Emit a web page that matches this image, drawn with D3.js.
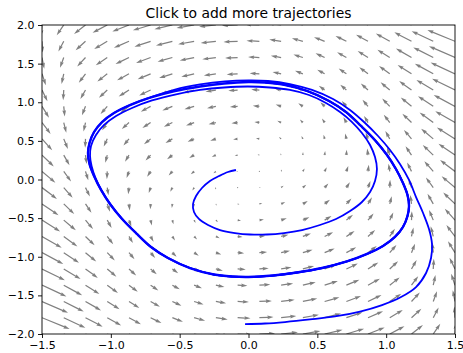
<!DOCTYPE html>
<html><head><meta charset="utf-8">
<script src="https://cdn.jsdelivr.net/npm/d3@7"></script>
<style>body{margin:0;background:#fff} svg{display:block}</style>
</head><body>
<svg id="c" width="463" height="353"></svg>
<script>
// ---------- data ----------
const title = "Click to add more trajectories";
const xTicks = [-1.5, -1.0, -0.5, 0.0, 0.5, 1.0, 1.5];
const yTicks = [-2.0, -1.5, -1.0, -0.5, 0.0, 0.5, 1.0, 1.5, 2.0];

// quiver grid (tail positions)
const gridX = [-1.5,-1.342,-1.184,-1.026,-0.868,-0.711,-0.553,-0.395,-0.237,-0.079,0.079,0.237,0.395,0.553,0.711,0.868,1.026,1.184,1.342,1.5];
const gridY = [-2,-1.789,-1.579,-1.368,-1.158,-0.947,-0.737,-0.526,-0.316,-0.105,0.105,0.316,0.526,0.737,0.947,1.158,1.368,1.579,1.789,2];
// horizontal component per row (row 0 = bottom), per column
const uRows = [
 [3.88,3.08,2.48,2.06,1.79,1.65,1.62,1.67,1.78,1.92,2.08,2.22,2.33,2.38,2.35,2.21,1.95,1.52,0.93,0.13],
 [3.66,2.86,2.27,1.84,1.58,1.44,1.41,1.46,1.57,1.71,1.87,2.01,2.12,2.17,2.14,2.00,1.73,1.31,0.71,-0.09],
 [3.45,2.65,2.06,1.63,1.37,1.23,1.20,1.25,1.36,1.50,1.66,1.80,1.91,1.96,1.93,1.79,1.52,1.10,0.50,-0.30],
 [3.24,2.44,1.84,1.42,1.16,1.02,0.98,1.04,1.14,1.29,1.45,1.59,1.70,1.75,1.72,1.58,1.31,0.89,0.29,-0.51],
 [3.03,2.23,1.63,1.21,0.95,0.81,0.77,0.83,0.93,1.08,1.24,1.38,1.49,1.54,1.51,1.37,1.10,0.68,0.08,-0.72],
 [2.82,2.02,1.42,1.00,0.73,0.60,0.56,0.61,0.72,0.87,1.03,1.17,1.28,1.33,1.30,1.16,0.89,0.47,-0.13,-0.93],
 [2.61,1.81,1.21,0.79,0.52,0.39,0.35,0.40,0.51,0.66,0.82,0.96,1.07,1.12,1.09,0.95,0.68,0.26,-0.34,-1.14],
 [2.40,1.60,1.00,0.58,0.31,0.17,0.14,0.19,0.30,0.45,0.60,0.75,0.86,0.91,0.88,0.74,0.47,0.05,-0.55,-1.35],
 [2.19,1.39,0.79,0.37,0.10,-0.04,-0.07,-0.02,0.09,0.24,0.39,0.54,0.65,0.70,0.67,0.53,0.26,-0.16,-0.76,-1.56],
 [1.98,1.18,0.58,0.16,-0.11,-0.25,-0.28,-0.23,-0.12,0.03,0.18,0.33,0.44,0.49,0.46,0.32,0.05,-0.37,-0.97,-1.77],
 [1.77,0.97,0.37,-0.05,-0.32,-0.46,-0.49,-0.44,-0.33,-0.18,-0.03,0.12,0.23,0.28,0.25,0.11,-0.16,-0.58,-1.18,-1.98],
 [1.56,0.76,0.16,-0.26,-0.53,-0.67,-0.70,-0.65,-0.54,-0.39,-0.24,-0.09,0.02,0.07,0.04,-0.10,-0.37,-0.79,-1.39,-2.19],
 [1.35,0.55,-0.05,-0.47,-0.74,-0.88,-0.91,-0.86,-0.75,-0.60,-0.45,-0.30,-0.19,-0.14,-0.17,-0.31,-0.58,-1.00,-1.60,-2.40],
 [1.14,0.34,-0.26,-0.68,-0.95,-1.09,-1.12,-1.07,-0.96,-0.82,-0.66,-0.51,-0.40,-0.35,-0.39,-0.52,-0.79,-1.21,-1.81,-2.61],
 [0.93,0.13,-0.47,-0.89,-1.16,-1.30,-1.33,-1.28,-1.17,-1.03,-0.87,-0.72,-0.61,-0.56,-0.60,-0.73,-1.00,-1.42,-2.02,-2.82],
 [0.72,-0.08,-0.68,-1.10,-1.37,-1.51,-1.54,-1.49,-1.38,-1.24,-1.08,-0.93,-0.83,-0.77,-0.81,-0.95,-1.21,-1.63,-2.23,-3.03],
 [0.51,-0.29,-0.89,-1.31,-1.58,-1.72,-1.75,-1.70,-1.59,-1.45,-1.29,-1.14,-1.04,-0.98,-1.02,-1.16,-1.42,-1.84,-2.44,-3.24],
 [0.30,-0.50,-1.10,-1.52,-1.79,-1.93,-1.96,-1.91,-1.80,-1.66,-1.50,-1.36,-1.25,-1.20,-1.23,-1.37,-1.63,-2.06,-2.65,-3.45],
 [0.09,-0.71,-1.31,-1.73,-2.00,-2.14,-2.17,-2.12,-2.01,-1.87,-1.71,-1.57,-1.46,-1.41,-1.44,-1.58,-1.84,-2.27,-2.86,-3.66],
 [-0.13,-0.93,-1.52,-1.95,-2.21,-2.35,-2.38,-2.33,-2.22,-2.08,-1.92,-1.78,-1.67,-1.62,-1.65,-1.79,-2.06,-2.48,-3.08,-3.88]
];
// vertical component per column (same for every row)
const vCols = [-1.5,-1.342,-1.184,-1.026,-0.868,-0.711,-0.553,-0.395,-0.237,-0.079,0.079,0.237,0.395,0.553,0.711,0.868,1.026,1.184,1.342,1.5];

// closed orbit the trajectories settle on (counter-clockwise from top)
const limitCycle = [[0,1.262],[-0.178,1.243],[-0.352,1.204],[-0.534,1.146],[-0.715,1.061],[-0.861,0.964],[-0.977,0.861],[-1.064,0.744],[-1.122,0.615],[-1.155,0.472],[-1.166,0.343],[-1.155,0.201],[-1.122,0.045],[-1.071,-0.136],[-1.006,-0.317],[-0.918,-0.511],[-0.817,-0.693],[-0.708,-0.874],[-0.585,-1.016],[-0.425,-1.146],[-0.251,-1.230],[-0.120,-1.256],[0,-1.262],[0.178,-1.243],[0.352,-1.204],[0.534,-1.146],[0.715,-1.061],[0.861,-0.964],[0.977,-0.861],[1.064,-0.744],[1.122,-0.615],[1.155,-0.472],[1.166,-0.343],[1.155,-0.201],[1.122,-0.045],[1.071,0.136],[1.006,0.317],[0.918,0.511],[0.817,0.693],[0.708,0.874],[0.585,1.016],[0.425,1.146],[0.251,1.230],[0.120,1.256]];

// trajectory started near the origin (spirals outward)
const trajAStart = [[-0.091,0.123],[-0.149,0.097],[-0.214,0.045],[-0.280,-0.019],[-0.338,-0.110],[-0.381,-0.214],[-0.403,-0.317],[-0.396,-0.421],[-0.360,-0.511],[-0.294,-0.589],[-0.207,-0.654],[-0.098,-0.693],[0.011,-0.712],[0.134,-0.712],[0.258,-0.693],[0.389,-0.654],[0.519,-0.589],[0.636,-0.511],[0.738,-0.408],[0.824,-0.291],[0.883,-0.162],[0.919,-0.019],[0.933,0.136],[0.919,0.291],[0.883,0.447],[0.824,0.602],[0.752,0.744],[0.665,0.874],[0.563,0.991],[0.439,1.094],[0.301,1.159],[0.156,1.191],[-0.004,1.204],[-0.178,1.191],[-0.352,1.159],[-0.534,1.100],[-0.701,1.023],[-0.846,0.926],[-0.962,0.822],[-1.049,0.706],[-1.108,0.576],[-1.144,0.434],[-1.151,0.304],[-1.140,0.175],[-1.111,0.019],[-1.064,-0.149],[-0.999,-0.330]];

// trajectory started near the bottom (spirals inward)
const trajBStart = [[-0.025,-1.871],[0.120,-1.864],[0.265,-1.845],[0.447,-1.812],[0.628,-1.773],[0.810,-1.709],[0.970,-1.625],[1.108,-1.521],[1.217,-1.392],[1.290,-1.210],[1.326,-1.016],[1.333,-0.835],[1.311,-0.641],[1.268,-0.434],[1.217,-0.227],[1.166,-0.006],[1.100,0.201],[1.028,0.382],[0.941,0.563],[0.839,0.744],[0.737,0.900],[0.614,1.042],[0.461,1.159],[0.301,1.236],[0.142,1.275],[0,1.282],[-0.171,1.269],[-0.352,1.230],[-0.534,1.165]];

// ---------- layout ----------
const W = 463, H = 353;
const L = 42, R = 455, T = 25, B = 334;
const svg = d3.select("#c");
const xs = d3.scaleLinear().domain([-1.5, 1.5]).range([L, R]);
const ys = d3.scaleLinear().domain([-2, 2]).range([B, T]);
const FONT = "DejaVu Sans, sans-serif";

svg.append("defs").append("clipPath").attr("id", "clip")
  .append("rect").attr("x", L).attr("y", T).attr("width", R - L).attr("height", B - T);

// ---------- quiver (matplotlib-like arrows) ----------
const field = [];
gridY.forEach((gy, i) => gridX.forEach((gx, j) => field.push({x: gx, y: gy, u: uRows[i][j], v: vCols[j]})));
const mags = field.map(d => Math.hypot(d.u, d.v));
const amean = d3.mean(mags);
const shaftW = 0.003 * (R - L);             // shaft width in px
function arrowShape(len) {                   // len in shaft widths
  if (len < 1) {
    const p = []; for (let k = 0; k < 7; k++) { const th = k * Math.PI / 3; p.push([Math.cos(th) * 0.5, Math.sin(th) * 0.5]); }
    return p;
  }
  let X, Y = [0.5, 0.5, 1.5, 0, -1.5, -0.5, -0.5, 0.5];
  if (len < 5) { const s = len / 5; X = [0, 0.5, 0, 5, 0, 0.5, 0, 0].map(d => d * s); Y = Y.map(d => d * s); }
  else X = [0, len - 4.5, len - 5, len, len - 5, len - 4.5, 0, 0];
  return X.map((x, k) => [x, Y[k]]);
}
const gQ = svg.append("g").attr("clip-path", "url(#clip)");
gQ.selectAll("path").data(field).join("path")
  .attr("d", d => {
    const m = Math.hypot(d.u, d.v);
    const len = m / (0.108 * amean);
    const a = Math.atan2(-d.v, d.u);
    const c = Math.cos(a), s = Math.sin(a);
    const x0 = xs(d.x), y0 = ys(d.y);
    const pts = arrowShape(len).map(([px, py]) => [x0 + shaftW * (px * c - py * s), y0 + shaftW * (px * s + py * c)]);
    return "M" + pts.map(p => p[0].toFixed(2) + "," + p[1].toFixed(2)).join("L") + "Z";
  })
  .attr("fill", "#808080").attr("stroke", "none");

// ---------- trajectories ----------
const line = d3.line().x(d => xs(d[0])).y(d => ys(d[1])).curve(d3.curveCatmullRom.alpha(0.5));
const lineClosed = d3.line().x(d => xs(d[0])).y(d => ys(d[1])).curve(d3.curveCatmullRomClosed.alpha(0.5));
const gL = svg.append("g").attr("clip-path", "url(#clip)").attr("fill", "none").attr("stroke", "#0000ff").attr("stroke-width", 1.8).attr("stroke-linejoin", "round");
gL.append("path").attr("d", lineClosed(limitCycle)).attr("stroke-width", 2.4);
gL.append("path").attr("d", line(trajAStart.concat(limitCycle.slice(15))));
gL.append("path").attr("d", line(trajBStart.concat(limitCycle.slice(4))));

// ---------- axes ----------
const fmt = d => d3.format(".1f")(d).replace("-", "\u2212");
const gx = svg.append("g").attr("transform", `translate(0,${B})`)
  .call(d3.axisBottom(xs).tickValues(xTicks).tickFormat(fmt).tickSize(4).tickPadding(3.5));
const gy = svg.append("g").attr("transform", `translate(${L},0)`)
  .call(d3.axisLeft(ys).tickValues(yTicks).tickFormat(fmt).tickSize(4).tickPadding(3.5));
[gx, gy].forEach(g => {
  g.select(".domain").remove();
  g.selectAll("line").attr("stroke", "#000").attr("stroke-width", 0.9);
  g.selectAll("text").attr("font-family", FONT).attr("font-size", 11).attr("fill", "#000");
});
svg.append("rect").attr("x", L).attr("y", T).attr("width", R - L).attr("height", B - T)
  .attr("fill", "none").attr("stroke", "#000").attr("stroke-width", 0.9);

svg.append("text").attr("x", (L + R) / 2).attr("y", T - 7).attr("text-anchor", "middle")
  .attr("font-family", FONT).attr("font-size", 13.9).attr("fill", "#000").text(title);
</script>
</body></html>
